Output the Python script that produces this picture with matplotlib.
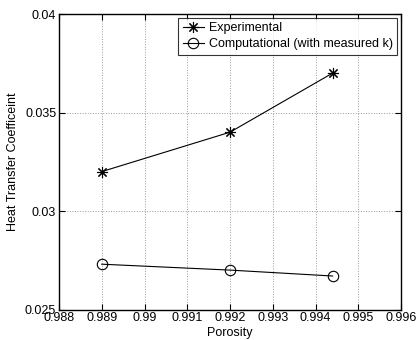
import matplotlib
matplotlib.use("Agg")
import matplotlib.pyplot as plt

plt.rcParams['font.family'] = ['Liberation Sans', 'DejaVu Sans']

porosity = [0.989, 0.992, 0.9944]
experimental = [0.032, 0.034, 0.037]
computational = [0.0273, 0.0270, 0.0267]

xticks = [0.988, 0.989, 0.99, 0.991, 0.992, 0.993, 0.994, 0.995, 0.996]
yticks = [0.025, 0.03, 0.035, 0.04]

fig = plt.figure(figsize=(4.17, 3.4), dpi=100)
ax = fig.add_axes([59/417, 1 - 309.5/340, 342/417, 295.5/340])

# matlab style asterisk marker (8 arms)
ax.plot(porosity, experimental, color='black', lw=0.8, marker=(8, 2, 0),
        markersize=8, markeredgewidth=0.8, label='Experimental')
ax.plot(porosity, computational, color='black', lw=0.8, marker='o',
        markersize=7.5, markerfacecolor='none', markeredgewidth=0.8,
        label='Computational (with measured k)')

ax.set_xlim(0.988, 0.996)
ax.set_ylim(0.025, 0.04)
ax.set_xticks(xticks)
ax.set_xticklabels([f'{t:g}' for t in xticks])
ax.set_yticks(yticks)
ax.set_yticklabels([f'{t:g}' for t in yticks])
ax.tick_params(direction='in', top=True, right=True, labelsize=9, length=4, pad=2)
ax.grid(True, linestyle=':', color='#999999', linewidth=0.7)
for s in ax.spines.values():
    s.set_linewidth(1.0)

ax.set_xlabel('Porosity', fontsize=9, labelpad=2)
ax.set_ylabel('Heat Transfer Coefficeint', fontsize=9, labelpad=4)

leg = ax.legend(loc='upper right', fontsize=9, frameon=True, fancybox=False,
                edgecolor='black', handlelength=1.7, borderpad=0.35,
                labelspacing=0.35, handletextpad=0.4, borderaxespad=0.3)
leg.get_frame().set_linewidth(0.8)

fig.savefig('out.png', dpi=100)
